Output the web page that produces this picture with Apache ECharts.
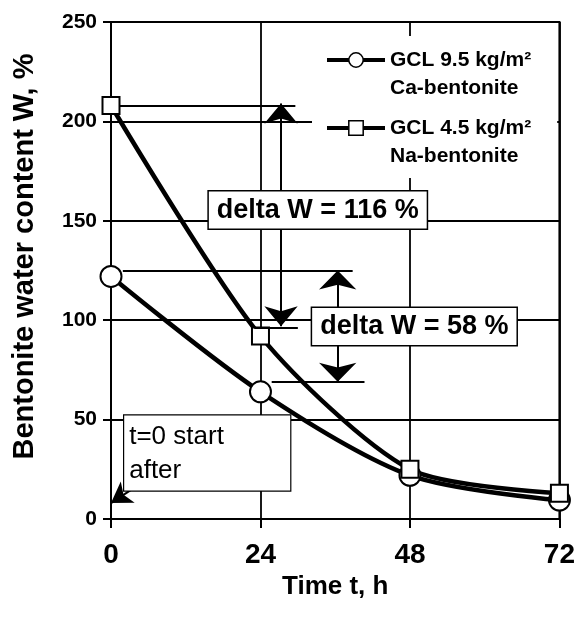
<!DOCTYPE html>
<html>
<head>
<meta charset="utf-8">
<script src="https://cdn.jsdelivr.net/npm/echarts@6/dist/echarts.min.js"></script>
<style>
  html, body { margin: 0; padding: 0; background: #fff; }
  #chart { width: 578px; height: 618px; }
</style>
</head>
<body>
<div id="chart"></div>
<script>
// values
const hours = [0, 24, 48, 72];
const caBentonite = [122, 64, 22, 9.5];   // GCL 9.5 kg/m², circles
const naBentonite = [208, 92, 25, 13];    // GCL 4.5 kg/m², squares
const xTicks = [0, 24, 48, 72];
const yTicks = [0, 50, 100, 150, 200, 250];

const FONT = 'Liberation Sans, Arial, sans-serif';
const BLACK = '#000';

const toPairs = (vals) => hours.map((h, i) => [h, vals[i]]);

// guide lines and arrows (data units: hours, %)
const guides = [
  [[1.4, 208], [29.6, 208]],
  [[23, 96], [30, 96]],
  [[1.9, 125], [38.8, 125]],
  [[25.8, 69], [40.7, 69]]
];
const arrows = [
  { from: [27.3, 209], to: [27.3, 97], size: [25, 20] },
  { from: [36.4, 125], to: [36.4, 69], size: [28, 19] }
];

const lineData = guides.map(g => [
  { coord: g[0], symbol: 'none' },
  { coord: g[1], symbol: 'none' }
]);
arrows.forEach(a => {
  lineData.push([
    { coord: a.from, symbol: 'arrow', symbolSize: a.size },
    { coord: a.to, symbol: 'arrow', symbolSize: a.size }
  ]);
});
// small pointer from the note box to the origin
lineData.push([
  { coord: [3.4, 15], symbol: 'none' },
  { coord: [0, 8], symbol: 'arrow', symbolSize: [19, 20] }
]);

const boxLabel = {
  show: true,
  position: 'inside',
  color: BLACK,
  fontFamily: FONT,
  fontWeight: 'bold',
  fontSize: 27,
  lineHeight: 29,
  backgroundColor: '#fff',
  borderColor: BLACK,
  borderWidth: 1.5,
  padding: [4, 8, 4, 8]
};

const myChart = echarts.init(document.getElementById('chart'), null, { renderer: 'canvas' });

const option = {
  backgroundColor: '#fff',
  animation: false,
  textStyle: { fontFamily: FONT },
  grid: {
    left: 111, right: 14, top: 22, bottom: 99,
    show: true, borderColor: BLACK, borderWidth: 2, backgroundColor: 'transparent'
  },
  legend: {
    orient: 'vertical',
    left: 312,
    top: 36,
    padding: [-18, 26, 8, 13],
    itemGap: -16,
    itemWidth: 58,
    itemHeight: 18,
    selectedMode: false,
    backgroundColor: '#fff',
    lineStyle: { width: 4, color: BLACK },
    itemStyle: { color: '#fff', borderColor: BLACK, borderWidth: 1.5 },
    textStyle: {
      color: BLACK, fontFamily: FONT, fontWeight: 'bold', fontSize: 21, lineHeight: 28
    },
    formatter: function (name) {
      return name === 'Ca' ? ' \nGCL 9.5 kg/m²\nCa-bentonite' : ' \nGCL 4.5 kg/m²\nNa-bentonite';
    },
    data: ['Ca', 'Na']
  },
  xAxis: {
    type: 'value',
    min: 0, max: 72, interval: 24,
    name: 'Time t, h',
    nameLocation: 'middle',
    nameGap: 49,
    nameTextStyle: { color: BLACK, fontFamily: FONT, fontWeight: 'bold', fontSize: 26 },
    axisLine: { show: true, onZero: false, lineStyle: { color: BLACK, width: 2 } },
    axisTick: { show: true, inside: false, length: 9, lineStyle: { color: BLACK, width: 2 } },
    axisLabel: {
      color: BLACK, fontFamily: FONT, fontWeight: 'bold', fontSize: 28, margin: 22,
      formatter: (v) => (xTicks.indexOf(v) >= 0 ? String(v) : '')
    },
    splitLine: { show: true, lineStyle: { color: BLACK, width: 1.8 } }
  },
  yAxis: {
    type: 'value',
    min: 0, max: 250, interval: 50,
    name: 'Bentonite water content W, %',
    nameLocation: 'middle',
    nameGap: 72,
    nameRotate: 90,
    nameTextStyle: {
      color: BLACK, fontFamily: FONT, fontWeight: 'bold', fontSize: 29, padding: [0, 0, 0, 28]
    },
    axisLine: { show: true, onZero: false, lineStyle: { color: BLACK, width: 2 } },
    axisTick: { show: true, inside: false, length: 8, lineStyle: { color: BLACK, width: 2 } },
    axisLabel: {
      color: BLACK, fontFamily: FONT, fontWeight: 'bold', fontSize: 21, margin: 14,
      formatter: (v) => (yTicks.indexOf(v) >= 0 ? String(v) : '')
    },
    splitLine: { show: true, lineStyle: { color: BLACK, width: 1.8 } }
  },
  series: [
    {
      name: 'Ca',
      type: 'line',
      data: toPairs(caBentonite),
      smooth: 0.3,
      clip: false,
      symbol: 'circle',
      symbolSize: 21,
      lineStyle: { color: BLACK, width: 4.5 },
      itemStyle: { color: '#fff', borderColor: BLACK, borderWidth: 2 },
      z: 3
    },
    {
      name: 'Na',
      type: 'line',
      data: toPairs(naBentonite),
      smooth: 0.26,
      clip: false,
      symbol: 'rect',
      symbolSize: 17,
      lineStyle: { color: BLACK, width: 4.5 },
      itemStyle: { color: '#fff', borderColor: BLACK, borderWidth: 2 },
      z: 3,
      markLine: {
        silent: true,
        animation: false,
        symbol: 'none',
        label: { show: false },
        lineStyle: { color: BLACK, width: 2, type: 'solid' },
        emphasis: { disabled: true },
        data: lineData
      },
      markPoint: {
        silent: true,
        symbol: 'rect',
        symbolSize: 1,
        itemStyle: { color: 'rgba(0,0,0,0)' },
        data: [
          { coord: [33.2, 155.4], value: 'delta W = 116 %', label: boxLabel },
          { coord: [48.7, 96.8], value: 'delta W = 58 %', label: boxLabel },
          {
            coord: [2.2, 51.8],
            value: 't=0 start\nafter',
            label: {
              show: true,
              position: [0, 0],
              align: 'left',
              verticalAlign: 'top',
              color: BLACK,
              fontFamily: FONT,
              fontWeight: 'normal',
              fontSize: 26,
              lineHeight: 34,
              width: 156,
              height: 68,
              backgroundColor: '#fff',
              borderColor: BLACK,
              borderWidth: 1.2,
              padding: [4, 5, 3, 5]
            }
          }
        ]
      }
    }
  ]
};

myChart.setOption(option);
</script>
</body>
</html>
